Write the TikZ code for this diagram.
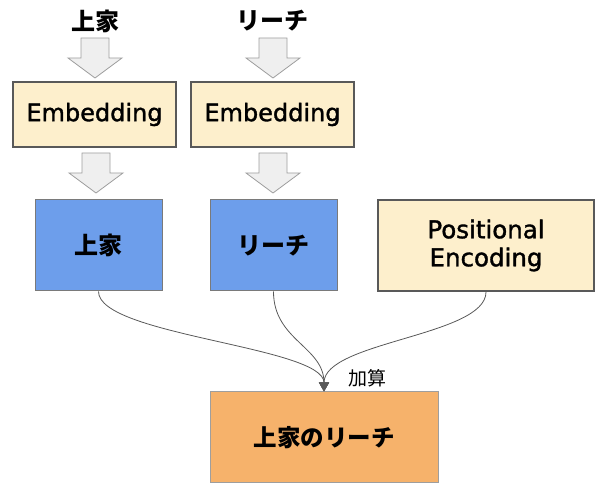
\documentclass[tikz,border=0pt]{standalone}
\usepackage{fontspec}
\setmainfont{DejaVu Sans}
\newfontfamily\lat{DejaVu Sans}[FakeBold=1.4]
\newfontfamily\jp{Noto Sans CJK JP}
\usetikzlibrary{arrows.meta}
\definecolor{cream}{HTML}{FDEFCC}
\definecolor{blueb}{HTML}{6D9EEB}
\definecolor{orangeb}{HTML}{F6B26B}
\definecolor{darkline}{HTML}{595959}
\definecolor{arrfill}{HTML}{EFEFEF}
\definecolor{arrdraw}{HTML}{9E9E9E}
\tikzset{
  embbox/.style={draw=darkline, line width=1.5pt, fill=cream, minimum width=163pt, minimum height=65pt, inner sep=0pt, font=\lat\fontsize{24}{28}\selectfont},
  bluebox/.style={draw=darkline!80, line width=1pt, fill=blueb, minimum width=127pt, minimum height=91pt, inner sep=0pt, font=\jp\bfseries\fontsize{24}{28}\selectfont},
  pebox/.style={draw=darkline, line width=2pt, fill=cream, minimum width=216pt, minimum height=91pt, inner sep=0pt, align=center, font=\lat\fontsize{24.5}{28}\selectfont},
  outbox/.style={draw=arrdraw, line width=1pt, fill=orangeb, minimum width=228pt, minimum height=91pt, inner sep=0pt, font=\jp\bfseries\fontsize{23.5}{28}\selectfont},
  toplabel/.style={font=\jp\bfseries\fontsize{24}{28}\selectfont, inner sep=0pt},
  sumlabel/.style={font=\jp\fontsize{19}{22}\selectfont, inner sep=0pt},
  conn/.style={draw=darkline, line width=0.8pt, -{Triangle[length=9pt,width=10pt]}},
  blockarr/.pic={\draw[fill=arrfill, draw=arrdraw, line width=0.8pt, line join=miter] (-14,0) -- (14,0) -- (14,20) -- (27,20) -- (0,40) -- (-27,20) -- (-14,20) -- cycle;}
}
\begin{document}
\begin{tikzpicture}[x=1pt,y=-1pt]
\useasboundingbox (0,0) rectangle (595,486);
% top labels
\node[toplabel] (l1) at (95,21) {上家};
\node[toplabel] (l2) at (272.5,21) {リーチ};
% block arrows
\pic at (95,38) {blockarr};
\pic at (273,38) {blockarr};
\pic at (96,153) {blockarr};
\pic at (273,153) {blockarr};
% embedding boxes
\node[embbox] (e1) at (94.5,114.5) {Embedding};
\node[embbox] (e2) at (272.5,114.5) {Embedding};
% vectors
\node[bluebox] (b1) at (98.5,245.5) {上家};
\node[bluebox] (b2) at (273.5,245.5) {リーチ};
\node[pebox] (pe) at (486,245.5) {Positional\\Encoding};
% output
\node[outbox] (o) at (324,437.5) {上家のリーチ};
% connectors
\draw[conn] (b1.south) .. controls +(0,44) and +(0,-45) .. (o.north);
\draw[conn] (b2.south) .. controls +(0,49) and +(0,-45) .. (o.north);
\draw[conn] (pe.south) .. controls +(0,44) and +(0,-50) .. (o.north);
\node[sumlabel] (sum) at (367,378) {加算};
\end{tikzpicture}
\end{document}
